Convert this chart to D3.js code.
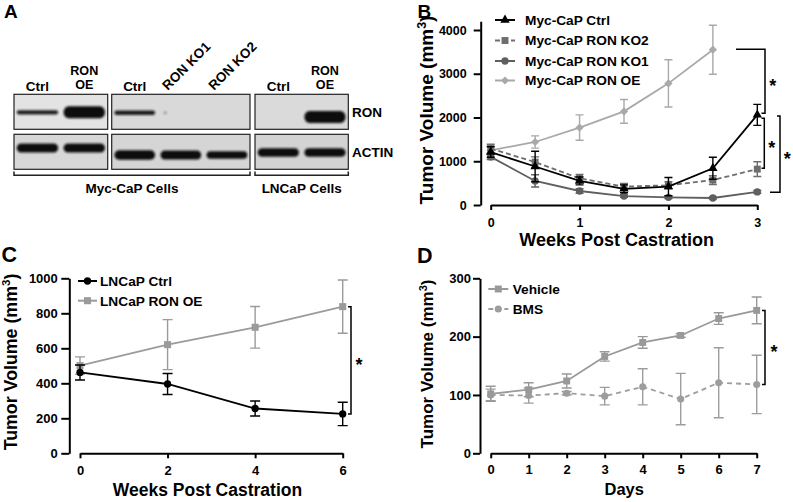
<!DOCTYPE html>
<html><head><meta charset="utf-8">
<script src="https://cdn.jsdelivr.net/npm/d3@7"></script>
<style>
body{margin:0;background:#fff}
svg{display:block;font-family:"Liberation Sans",Arial,sans-serif;font-weight:bold}
</style></head><body>
<svg id="fig" width="793" height="502"></svg>
<script>
// ===== Panel A: western blot =====
const blotLanes   = ["Ctrl","RON OE","Ctrl","RON KO1","RON KO2","Ctrl","RON OE"];
const blotGroups  = [0,0,1,1,1,2,2];
const ronLevel    = [0.6,1.0,0.62,0.1,0,0,1.0];
const actinLevel  = [0.95,0.95,1.0,0.95,0.8,0.9,0.92];
const blotRows    = ["RON","ACTIN"];
const cellLines   = ["Myc-CaP Cells","LNCaP Cells"];
const cellGroups  = [[0,1],[2]];

// ===== Panel B =====
const bSeries   = ["Myc-CaP Ctrl","Myc-CaP RON KO2","Myc-CaP RON KO1","Myc-CaP RON OE"];
const bWeeks    = [0,0.5,1,1.5,2,2.5,3];
const bOEWeeks  = [0,0.5,1,1.5,2,2.5];
const bCtrl     = [1210,880,550,370,420,840,2060];
const bCtrlErr  = [120,350,90,90,210,250,240];
const bKO2      = [1290,980,610,420,450,570,820];
const bKO2Err   = [100,120,90,70,80,100,170];
const bKO1      = [1100,550,320,205,175,160,300];
const bKO1Err   = [60,140,50,30,30,25,30];
const bOE       = [1250,1440,1770,2140,2780,3550];
const bOEErr    = [100,140,290,270,540,560];
const bTicksY   = [0,1000,2000,3000,4000];
const bTicksX   = [0,1,2,3];
const bBrackets = [[3560,2096],[1982,839],[2034,290]];

// ===== Panel C =====
const cSeries   = ["LNCaP Ctrl","LNCaP RON OE"];
const cWeeks    = [0,2,4,6];
const cCtrl     = [462,396,256,225];
const cCtrlErr  = [43,60,43,67];
const cOE       = [501,621,720,838];
const cOEErr    = [50,143,119,152];
const cTicksY   = [0,200,400,600,800,1000];
const cTicksX   = [0,2,4,6];
const cBrackets = [[838,225]];

// ===== Panel D =====
const dSeries   = ["Vehicle","BMS"];
const dDays     = [0,1,2,3,4,5,6,7];
const dVehicle  = [102,109,124,166,190,202,231,245];
const dVehErr   = [13,12,12,8,10,3,10,23];
const dBMS      = [100,99,103,98,114,93,121,118];
const dBMSErr   = [10,13,3,15,31,44,60,50];
const dTicksY   = [0,100,200,300];
const dTicksX   = [0,1,2,3,4,5,6,7];
const dBrackets = [[245,118]];

const svg = d3.select("#fig");
svg.append("rect").attr("width",793).attr("height",502).attr("fill","#fff");
const defs = svg.append("defs");
defs.append("filter").attr("id","blur").attr("x","-30%").attr("y","-80%").attr("width","160%").attr("height","260%")
  .append("feGaussianBlur").attr("stdDeviation",1.3);

// panel letters
[["A",4,18.3,19],["B",417.5,18.3,19],["C",1.5,262.3,21.5],["D",417,262.5,21.5]].forEach(([t,x,y,s])=>{
  svg.append("text").attr("x",x).attr("y",y).attr("font-size",s).text(t);
});

// ---------- Panel A ----------
(function(){
  const boxes = [[14,107.7],[111.7,250],[255,348.3]];
  const rowY = [[94.3,129.3],[134.3,169.3]];
  const bg = [["#e3e3e3","#d9d9d9","#dadada"],["#d7d7d7","#d5d5d5","#d3d3d3"]];
  const bandY = [[112.3,112.8,117],[148,155,152.5]];
  const g = svg.append("g");
  boxes.forEach((bx,bi)=>{
    const lanes = d3.range(blotLanes.length).filter(i=>blotGroups[i]===bi);
    const xb = d3.scaleBand().domain(lanes).range(bx).paddingInner(0.06).paddingOuter(0.03);
    rowY.forEach((ry,ri)=>{
      const cid = `clip${bi}_${ri}`;
      defs.append("clipPath").attr("id",cid).append("rect")
        .attr("x",bx[0]).attr("y",ry[0]).attr("width",bx[1]-bx[0]).attr("height",ry[1]-ry[0]);
      g.append("rect").attr("x",bx[0]).attr("y",ry[0]).attr("width",bx[1]-bx[0]).attr("height",ry[1]-ry[0])
        .attr("fill",bg[ri][bi]);
      const bandG = g.append("g").attr("clip-path",`url(#${cid})`);
      lanes.forEach(i=>{
        const lvl = ri===0 ? ronLevel[i] : actinLevel[i];
        if(lvl<=0) return;
        const th = ri===0 ? Math.max(3, 12*lvl*lvl) : 9.5*lvl;
        const small = ri===0 && lvl<0.2;
        const w = small ? 3 : xb.bandwidth()*0.94;
        const cx = small ? xb(i)+6 : xb(i)+xb.bandwidth()/2;
        bandG.append("rect").attr("x",cx-w/2).attr("y",bandY[ri][bi]-th/2)
          .attr("width",w).attr("height",th).attr("rx",Math.min(th/2,5)).attr("ry",th/2)
          .attr("fill","#111").attr("opacity",small?0.35:Math.min(1,0.5+lvl*0.7)).attr("filter","url(#blur)");
      });
      g.append("rect").attr("x",bx[0]).attr("y",ry[0]).attr("width",bx[1]-bx[0]).attr("height",ry[1]-ry[0])
        .attr("fill","none").attr("stroke","#222").attr("stroke-width",1.2);
    });
    // lane labels
    lanes.forEach(i=>{
      const cx = xb(i)+xb.bandwidth()/2;
      const lab = blotLanes[i];
      if(lab.includes("KO")){
        g.append("text").attr("transform",`translate(${cx-13},91) rotate(-45)`).attr("font-size",13.5).text(lab);
      } else if(lab.includes(" ")){
        const parts = lab.split(" ");
        g.append("text").attr("x",cx).attr("y",74.6).attr("text-anchor","middle").attr("font-size",12.6).text(parts[0]);
        g.append("text").attr("x",cx).attr("y",88.8).attr("text-anchor","middle").attr("font-size",12.6).text(parts[1]);
      } else {
        g.append("text").attr("x",cx).attr("y",90.8).attr("text-anchor","middle").attr("font-size",13.5).text(lab);
      }
    });
  });
  blotRows.forEach((r,ri)=>{
    g.append("text").attr("x",352).attr("y",(rowY[ri][0]+rowY[ri][1])/2+5).attr("font-size",13.5).text(r);
  });
  cellLines.forEach((c,ci)=>{
    const gs = cellGroups[ci];
    const x0 = boxes[gs[0]][0], x1 = boxes[gs[gs.length-1]][1];
    g.append("path").attr("d",`M${x0},171.5V175.3H${x1}V171.5`).attr("fill","none").attr("stroke","#222").attr("stroke-width",1.5);
    g.append("text").attr("x",(x0+x1)/2).attr("y",193).attr("text-anchor","middle").attr("font-size",13.5).text(c);
  });
})();

// ---------- generic line chart ----------
function drawChart(o){
  const g = svg.append("g");
  const fmt = d => String(d);
  const ya = g.append("g").attr("transform",`translate(${o.yAxisX},0)`)
    .call(d3.axisLeft(o.y).tickValues(o.ticksY).tickFormat(fmt).tickSize(o.yTick).tickPadding(o.yPad).tickSizeOuter(0));
  const xa = g.append("g").attr("transform",`translate(0,${o.xAxisY})`)
    .call(d3.axisBottom(o.x).tickValues(o.ticksX).tickFormat(fmt).tickSize(5).tickPadding(o.xPad).tickSizeOuter(0));
  [ya,xa].forEach(a=>{
    a.attr("font-family",null).attr("font-size",o.tickFont).attr("font-weight","bold");
    a.selectAll("path,line").attr("stroke","#000").attr("stroke-width",2);
    a.selectAll("text").attr("fill","#000");
  });
  g.append("text").attr("x",o.xTitle[0]).attr("y",o.xTitle[1]).attr("text-anchor","middle")
    .attr("font-size",o.xTitle[2]).text(o.xLabel);
  const yt = g.append("text").attr("transform",`translate(${o.yTitle[0]},${o.yTitle[1]}) rotate(-90)`)
    .attr("text-anchor","middle").attr("font-size",o.yTitle[2]);
  yt.append("tspan").text("Tumor Volume (mm");
  yt.append("tspan").attr("font-size",o.yTitle[2]*0.65).attr("dy",-o.yTitle[2]*0.38).text("3");
  yt.append("tspan").attr("dy",o.yTitle[2]*0.38).text(")");
  const line = d3.line().x(d=>o.x(d[0])).y(d=>o.y(d[1]));
  o.series.forEach(s=>{
    const pts = s.xs.map((xv,i)=>[xv,s.ys[i],s.err[i]]);
    const sg = g.append("g");
    sg.append("path").attr("d",line(pts)).attr("fill","none").attr("stroke",s.color)
      .attr("stroke-width",s.lw||1.8).attr("stroke-dasharray",s.dash||null);
    pts.forEach(p=>{
      const cx=o.x(p[0]), y1=o.y(p[1]+p[2]), y2=o.y(Math.max(0,p[1]-p[2]));
      sg.append("path").attr("d",`M${cx},${y1}V${y2}M${cx-o.cap},${y1}H${cx+o.cap}M${cx-o.cap},${y2}H${cx+o.cap}`)
        .attr("stroke",s.color).attr("stroke-width",1.4).attr("fill","none");
    });
    sg.selectAll(".m").data(pts).join("path")
      .attr("transform",d=>`translate(${o.x(d[0])},${o.y(d[1])})${s.rot?" rotate(45)":""}`)
      .attr("d",d3.symbol(s.sym,s.size)()).attr("fill",s.color);
  });
  o.legend.items.forEach((s,i)=>{
    const ly = o.legend.ys[i];
    g.append("line").attr("x1",o.legend.x0).attr("x2",o.legend.x1).attr("y1",ly).attr("y2",ly)
      .attr("stroke",s.color).attr("stroke-width",2).attr("stroke-dasharray",s.dash?"5,3":null);
    g.append("path").attr("transform",`translate(${(o.legend.x0+o.legend.x1)/2},${ly})${s.rot?" rotate(45)":""}`)
      .attr("d",d3.symbol(s.sym,s.size)()).attr("fill",s.color);
    g.append("text").attr("x",o.legend.tx).attr("y",ly).attr("dy","0.36em").attr("font-size",13.7).text(s.name);
  });
  o.brackets.forEach((b,i)=>{
    const bx = o.bx[i];
    const yTop=o.y(b[0]), yBot=o.y(b[1]);
    g.append("path").attr("d",`M${bx.topL},${yTop}H${bx.x}V${yBot}H${bx.botL}`)
      .attr("fill","none").attr("stroke","#000").attr("stroke-width",1.5);
    g.append("text").attr("x",bx.sx).attr("y",(yTop+yBot)/2+11).attr("text-anchor","middle")
      .attr("font-size",18).text("*");
  });
}

// ---------- Panel B ----------
{
  const x = d3.scaleLinear([0,3],[490.7,757.3]);
  const y = d3.scaleLinear([0,4200],[205,21.25]);
  const series = [
    {name:bSeries[3],xs:bOEWeeks,ys:bOE,err:bOEErr,color:"#a9a9a9",sym:d3.symbolSquare,size:34,rot:true},
    {name:bSeries[2],xs:bWeeks,ys:bKO1,err:bKO1Err,color:"#5f5f5f",sym:d3.symbolCircle,size:42},
    {name:bSeries[1],xs:bWeeks,ys:bKO2,err:bKO2Err,color:"#6e6e6e",sym:d3.symbolSquare,size:48,dash:"5,3"},
    {name:bSeries[0],xs:bWeeks,ys:bCtrl,err:bCtrlErr,color:"#000",sym:d3.symbolTriangle,size:38}
  ];
  drawChart({x,y,yAxisX:480.7,xAxisY:205,ticksY:bTicksY,ticksX:bTicksX,yTick:7,yPad:7,xPad:8.5,tickFont:12.5,
    xLabel:"Weeks Post Castration",xTitle:[616.7,245.7,18],yTitle:[433,110,19],cap:4,
    series,
    legend:{x0:495,x1:515,tx:525,ys:[20,40.5,61,80.5],items:[series[3],series[2],series[1],series[0]]},
    brackets:bBrackets,
    bx:[{topL:736,x:765,botL:761.5,sx:772.7},
        {topL:761.5,x:764.3,botL:761.5,sx:771.7},
        {topL:777,x:780,botL:770,sx:787.3}]});
}

// ---------- Panel C ----------
{
  const x = d3.scaleLinear([0,6],[80,342.7]);
  const y = d3.scaleLinear([0,1000],[453.3,278.3]);
  const series = [
    {name:cSeries[1],xs:cWeeks,ys:cOE,err:cOEErr,color:"#9b9b9b",sym:d3.symbolSquare,size:50},
    {name:cSeries[0],xs:cWeeks,ys:cCtrl,err:cCtrlErr,color:"#000",sym:d3.symbolCircle,size:42}
  ];
  drawChart({x,y,yAxisX:69.3,xAxisY:453.3,ticksY:cTicksY,ticksX:cTicksX,yTick:8,yPad:3.5,xPad:7.5,tickFont:13,
    xLabel:"Weeks Post Castration",xTitle:[207.5,496,17.5],yTitle:[16.7,362,17.8],cap:5,
    series,
    legend:{x0:78,x1:97,tx:100,ys:[281,300.7],items:[series[1],series[0]]},
    brackets:cBrackets,
    bx:[{topL:348,x:351,botL:348,sx:359}]});
}

// ---------- Panel D ----------
{
  const x = d3.scaleLinear([0,7],[490.7,756.7]);
  const y = d3.scaleLinear([0,300],[453.3,278.3]);
  const series = [
    {name:dSeries[1],xs:dDays,ys:dBMS,err:dBMSErr,color:"#9d9d9d",sym:d3.symbolCircle,size:40,dash:"5,4"},
    {name:dSeries[0],xs:dDays,ys:dVehicle,err:dVehErr,color:"#999",sym:d3.symbolSquare,size:48}
  ];
  drawChart({x,y,yAxisX:480,xAxisY:453.3,ticksY:dTicksY,ticksX:dTicksX,yTick:7,yPad:2,xPad:6,tickFont:13,
    xLabel:"Days",xTitle:[624.2,495,16.5],yTitle:[433.3,364,17],cap:5,
    series,
    legend:{x0:488.3,x1:508.3,tx:512.7,ys:[289,309],items:[series[1],series[0]]},
    brackets:dBrackets,
    bx:[{topL:762,x:765,botL:762,sx:774}]});
}
</script>
</body></html>
